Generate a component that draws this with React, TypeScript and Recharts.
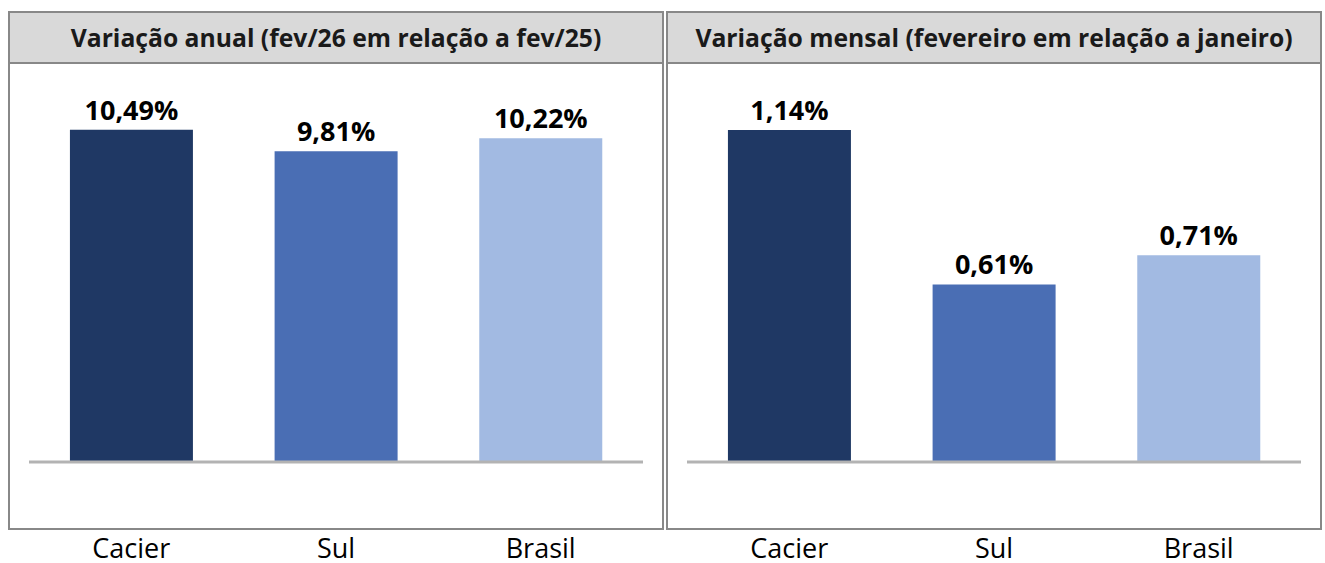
import { BarChart, Bar, XAxis, YAxis, Cell, LabelList } from "recharts";

const categories = ["Cacier", "Sul", "Brasil"];
const annualValues = [10.49, 9.81, 10.22];
const monthlyValues = [1.14, 0.61, 0.71];
const barColors = ["#1f3864", "#4a6eb4", "#a2bae2"];

const annualTitle = "Variação anual (fev/26 em relação a fev/25)";
const monthlyTitle = "Variação mensal (fevereiro em relação a janeiro)";

const FONT = "'Open Sans', Lato, sans-serif";

const toRows = (values: number[]) =>
  categories.map((name, i) => ({ name, value: values[i] }));

const fmt = (v: any) => `${Number(v).toFixed(2).replace(".", ",")}%`;

function CategoryTick(props: any) {
  const { x, y, payload } = props;
  return (
    <text
      x={x}
      y={y + 88}
      textAnchor="middle"
      fill="#000"
      fontSize={27}
      fontFamily={FONT}
    >
      {payload.value}
    </text>
  );
}

function Panel({ left, title, values, max }: { left: number; title: string; values: number[]; max: number }) {
  return (
    <>
      <div
        style={{
          position: "absolute",
          left,
          top: 11,
          width: 652,
          height: 515,
          border: "2px solid #888",
        }}
      >
        <div
          style={{
            height: 49,
            background: "#d9d9d9",
            borderBottom: "2px solid #888",
            display: "flex",
            alignItems: "center",
            justifyContent: "center",
            fontFamily: FONT,
            fontWeight: 700,
            fontSize: 24.7,
            color: "#1a1a1a",
            whiteSpace: "nowrap",
          }}
        >
          {title}
        </div>
      </div>
      <div style={{ position: "absolute", left, top: 0 }}>
        <BarChart
          width={656}
          height={563}
          data={toRows(values)}
          margin={{ top: 82, right: 21, bottom: 71, left: 21 }}
          barCategoryGap="20%"
          style={{ overflow: "visible" }}
        >
          <YAxis hide domain={[0, max]} />
          <XAxis
            dataKey="name"
            tickLine={false}
            axisLine={{ stroke: "#b3b3b3", strokeWidth: 3 }}
            tick={<CategoryTick />}
            height={30}
            interval={0}
          />
          <Bar dataKey="value" isAnimationActive={false}>
            {values.map((_, i) => (
              <Cell key={i} fill={barColors[i]} />
            ))}
            <LabelList
              dataKey="value"
              position="top"
              offset={10}
              formatter={fmt}
              fill="#000"
              fontSize={27}
              fontWeight={700}
              fontFamily={FONT}
            />
          </Bar>
        </BarChart>
      </div>
    </>
  );
}

export default function App() {
  return (
    <div style={{ position: "absolute", left: 0, top: 0, width: 1325, height: 563, background: "#fff" }}>
      <Panel left={8} title={annualTitle} values={annualValues} max={12} />
      <Panel left={666} title={monthlyTitle} values={monthlyValues} max={1.305} />
    </div>
  );
}
